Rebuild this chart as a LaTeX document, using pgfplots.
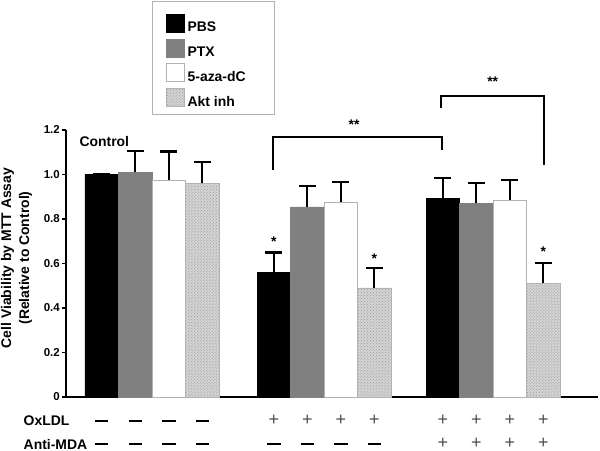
\documentclass[border=0pt]{standalone}
\usepackage{fontspec}
\setmainfont{Liberation Sans}
\usepackage{pgfplots}
\pgfplotsset{compat=1.18}
\usetikzlibrary{patterns}
\begin{document}
\begin{tikzpicture}[font=\bfseries\fontsize{14}{17}\selectfont]
\pgfplotsset{
  mybar/.style={ybar, bar width=33.5, bar shift=0pt,
    legend image code/.code={\draw[##1] (0bp,-4.5bp) rectangle (18bp,13.5bp);},
    error bars/y dir=plus, error bars/y explicit,
    error bars/error mark=-,
    error bars/error bar style={line width=2.3bp, black, solid},
    error bars/error mark options={rotate=90, line width=2.3bp, mark size=8.5bp, black, solid}},
}
\begin{axis}[
  at={(0,0)}, anchor=south west,
  scale only axis, width=532bp, height=267bp,
  xmin=0, xmax=532, ymin=0, ymax=1.2,
  axis lines*=left,
  axis line style={line width=1.6bp, -},
  xtick=\empty,
  ytick={0,0.2,0.4,0.6,0.8,1.0,1.2},
  yticklabels={0,0.2,0.4,0.6,0.8,1.0,1.2},
  tick align=outside, major tick length=4bp,
  tick style={line width=1.3bp, black},
  /pgf/number format/assume math mode=true,
  yticklabel style={font=\bfseries\fontsize{11.5}{13}\selectfont, inner sep=2bp},
  ylabel={Cell Viability by MTT Assay\\(Relative to Control)},
  ylabel style={at={(axis description cs:-0.093,0.5206)}, anchor=center, align=center,
    font=\bfseries\fontsize{14}{18}\selectfont},
  clip=false,
  legend style={draw=none, fill=none, inner sep=0pt,
    at={(axis description cs:0.188,1.4356)}, anchor=north west,
    row sep=5.5bp, font=\bfseries\fontsize{14}{16}\selectfont,
    nodes={inner ysep=0pt, inner xsep=3bp}},
  legend cell align=left,
]
\addplot[mybar, fill=black, draw=black] coordinates {
  (35.75,1.00) +- (0,0.0)
  (207.75,0.56) +- (0,0.09)
  (376.75,0.893) +- (0,0.09)
};
\addlegendentry{PBS}
\addplot[mybar, fill=black!50, draw=black!50] coordinates {
  (69.25,1.01) +- (0,0.096)
  (241.25,0.855) +- (0,0.093)
  (410.25,0.870) +- (0,0.093)
};
\addlegendentry{PTX}
\addplot[mybar, fill=white, draw=black!30] coordinates {
  (102.75,0.975) +- (0,0.128)
  (274.75,0.875) +- (0,0.09)
  (443.75,0.884) +- (0,0.09)
};
\addlegendentry{5-aza-dC}
\addplot[mybar, fill=black!17, draw=black!30, postaction={pattern=crosshatch dots, pattern color=black!40}] coordinates {
  (136.25,0.96) +- (0,0.095)
  (308.25,0.491) +- (0,0.09)
  (477.25,0.511) +- (0,0.09)
};
\addlegendentry{Akt inh}

% legend frame
\draw[black!30, line width=0.8bp] (axis cs:86.7,1.780) rectangle (axis cs:208.3,1.272);

% significance brackets
\draw[line width=2bp] (axis cs:206.7,1.020) -- (axis cs:206.7,1.167) -- (axis cs:375.7,1.167) -- (axis cs:375.7,1.110);
\node at (axis cs:288,1.225) {**};
\draw[line width=2bp] (axis cs:374.7,1.298) -- (axis cs:374.7,1.354) -- (axis cs:478,1.354) -- (axis cs:478,1.043);
\node at (axis cs:426.7,1.417) {**};
\node at (axis cs:207.75,0.700) {*};
\node at (axis cs:308.25,0.622) {*};
\node at (axis cs:477.25,0.652) {*};

\node[anchor=base west] at (axis cs:10,1.128) {Control};

% treatment table
\node[anchor=base west, inner sep=0.5bp] at (axis cs:-43,-0.130) {OxLDL};
\node[anchor=base west, inner sep=0.5bp] at (axis cs:-43,-0.236) {Anti-MDA};
\pgfplotsinvokeforeach{35.75,69.25,102.75,136.25}{
  \node[inner sep=0pt] at (axis cs:#1,-0.1079) {\rule{13.5bp}{2.8bp}};
  \node[inner sep=0pt] at (axis cs:#1,-0.2112) {\rule{13.5bp}{2.3bp}};
}
\pgfplotsinvokeforeach{207.75,241.25,274.75,308.25}{
  \node[anchor=base, inner sep=0.5bp, font=\mdseries\fontsize{18}{18}\selectfont, text=black!70] at (axis cs:#1,-0.128) {+};
  \node[inner sep=0pt] at (axis cs:#1,-0.2112) {\rule{13.5bp}{2.8bp}};
}
\pgfplotsinvokeforeach{376.75,410.25,443.75,477.25}{
  \node[anchor=base, inner sep=0.5bp, font=\mdseries\fontsize{18}{18}\selectfont, text=black!70] at (axis cs:#1,-0.128) {+};
  \node[anchor=base, inner sep=0.5bp, font=\mdseries\fontsize{18}{18}\selectfont, text=black!70] at (axis cs:#1,-0.232) {+};
}
\end{axis}
\pgfresetboundingbox
\path (-66bp,-54bp) rectangle (534bp,397bp);
\end{tikzpicture}
\end{document}
